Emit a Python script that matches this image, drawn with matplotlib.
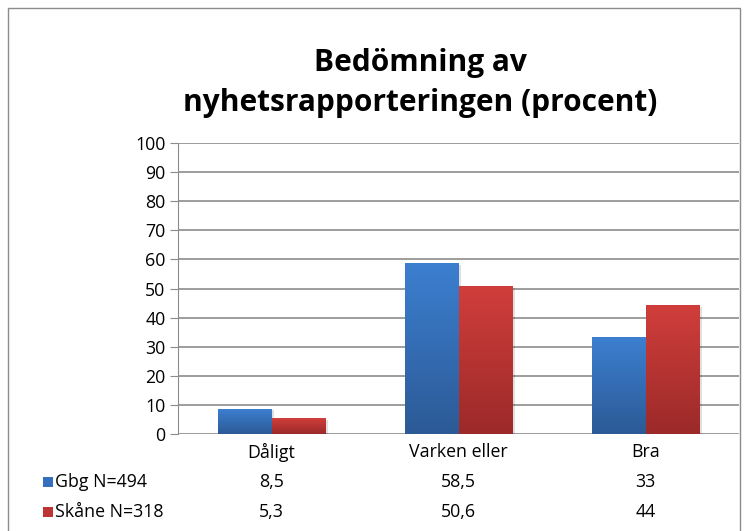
import numpy as np
import matplotlib
matplotlib.use("Agg")
import matplotlib.pyplot as plt
from matplotlib.patches import Rectangle
from matplotlib.colors import LinearSegmentedColormap

# data
categories = ["Dåligt", "Varken eller", "Bra"]
series_names = ["Gbg N=494", "Skåne N=318"]
gbg = [8.5, 58.5, 33]
skane = [5.3, 50.6, 44]
gbg_labels = ["8,5", "58,5", "33"]
skane_labels = ["5,3", "50,6", "44"]
yticks = [0, 10, 20, 30, 40, 50, 60, 70, 80, 90, 100]

plt.rcParams['font.family'] = ['Open Sans', 'DejaVu Sans']

W, H = 753, 531
fig = plt.figure(figsize=(W / 100, H / 100), dpi=100)

# outer chart frame
fig.patches.append(Rectangle((8 / W, -0.01), 732 / W, (H - 8) / H + 0.01,
                             transform=fig.transFigure, fill=False,
                             edgecolor="#8c8c8c", linewidth=1.0))

ax = fig.add_axes([178 / W, (H - 434) / H, 561 / W, 291 / H])

cmaps = [
    LinearSegmentedColormap.from_list("b", ["#2c5a96", "#3c7fd0"]),
    LinearSegmentedColormap.from_list("r", ["#9b2a29", "#d03e3b"]),
]

x = np.arange(len(categories))
bw = 54 / 187
grad = np.linspace(0, 1, 256).reshape(-1, 1)

for i, vals in enumerate([gbg, skane]):
    offs = (i - 0.5) * bw
    for xi, v in zip(x, vals):
        x0 = xi + offs - bw / 2
        # soft shadow
        ax.add_patch(Rectangle((x0 + 0.012, 0), bw, v - 0.4, facecolor="#000000",
                               alpha=0.12, edgecolor="none", zorder=2))
        ax.imshow(grad, extent=[x0, x0 + bw, 0, v], origin="lower",
                  cmap=cmaps[i], aspect="auto", zorder=3)

fs = 12.8
ax.set_xlim(-0.5, 2.5)
ax.set_ylim(0, 100)
ax.set_yticks(yticks)
ax.set_yticklabels([str(t) for t in yticks], fontsize=fs, color="#000000")
ax.set_xticks([])
ax.yaxis.grid(True, color="#8c8c8c", linewidth=1.2, zorder=0)
ax.set_axisbelow(True)
ax.tick_params(axis="y", length=6, color="#8c8c8c", pad=3)
for s in ["top", "right", "bottom"]:
    ax.spines[s].set_visible(False)
ax.spines["left"].set_color("#8c8c8c")
ax.spines["left"].set_zorder(4)

# data table below the axis
tr = ax.get_xaxis_transform()
for xi, c in zip(x, categories):
    ax.text(xi, -0.062, c, transform=tr, ha="center", va="center", fontsize=fs,
            clip_on=False)
for xi, g, s in zip(x, gbg_labels, skane_labels):
    ax.text(xi, -0.165, g, transform=tr, ha="center", va="center", fontsize=fs,
            clip_on=False)
    ax.text(xi, -0.268, s, transform=tr, ha="center", va="center", fontsize=fs,
            clip_on=False)

leg_cols = ["#3670bd", "#bd3432"]
for i, (name, col) in enumerate(zip(series_names, leg_cols)):
    yc = 482 + 30 * i
    fig.patches.append(Rectangle((43 / W, (H - yc - 5) / H), 10 / W, 10 / H,
                                 transform=fig.transFigure, facecolor=col,
                                 edgecolor="none"))
    fig.text(55 / W, (H - yc) / H, name, ha="left", va="center", fontsize=fs)

fig.text(420 / W, (H - 83) / H, "Bedömning av\nnyhetsrapporteringen (procent)",
         ha="center", va="center", fontsize=21.5, fontweight="bold",
         linespacing=1.45)

fig.savefig("out.png", dpi=100)
